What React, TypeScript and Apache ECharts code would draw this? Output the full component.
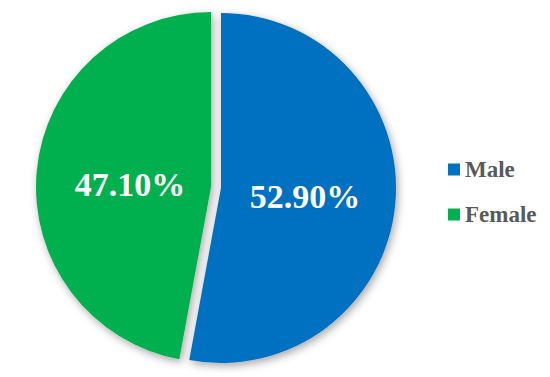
import React, { useEffect, useRef } from "react";
import * as echarts from "echarts";

const categories = ["Male", "Female"];
const values = [52.9, 47.1];
const colors = ["#0070C0", "#00B050"];

const SERIF = "Times New Roman, Liberation Serif, serif";

export default function App() {
  const ref = useRef<HTMLDivElement>(null);
  useEffect(() => {
    if (!ref.current) return;
    const chart = echarts.init(ref.current, null, { renderer: "svg" });
    const labelNudge = [
      { dx: -6, dy: 0 },
      { dx: 9, dy: 6 },
    ];
    chart.setOption({
      animation: false,
      backgroundColor: "#ffffff",
      legend: {
        orient: "vertical",
        left: 443,
        top: 153,
        itemWidth: 12,
        itemHeight: 12,
        itemGap: 22,
        icon: "rect",
        data: categories,
        textStyle: {
          color: "#595959",
          fontSize: 23,
          fontWeight: "bold",
          lineHeight: 23,
          fontFamily: SERIF,
        },
      },
      series: [
        {
          type: "pie",
          center: [216, 187.5],
          radius: [0, 175],
          startAngle: 90,
          clockwise: true,
          selectedMode: "multiple",
          selectedOffset: 5,
          emphasis: { disabled: true },
          itemStyle: {
            shadowBlur: 8,
            shadowColor: "rgba(0,0,0,0.35)",
            shadowOffsetX: 2,
            shadowOffsetY: 3,
          },
          label: {
            show: true,
            position: "inner",
            color: "#ffffff",
            fontSize: 34,
            fontWeight: "bold",
            fontFamily: SERIF,
            formatter: (p: any) => p.value.toFixed(2) + "%",
          },
          labelLine: { show: false },
          labelLayout: (p: any) => labelNudge[p.dataIndex] || {},
          data: categories.map((name, i) => ({
            name,
            value: values[i],
            selected: true,
            itemStyle: { color: colors[i] },
          })),
        },
      ],
    });
    return () => chart.dispose();
  }, []);
  return (
    <div
      ref={ref}
      style={{ position: "fixed", left: 0, top: 0, width: 550, height: 377 }}
    />
  );
}
